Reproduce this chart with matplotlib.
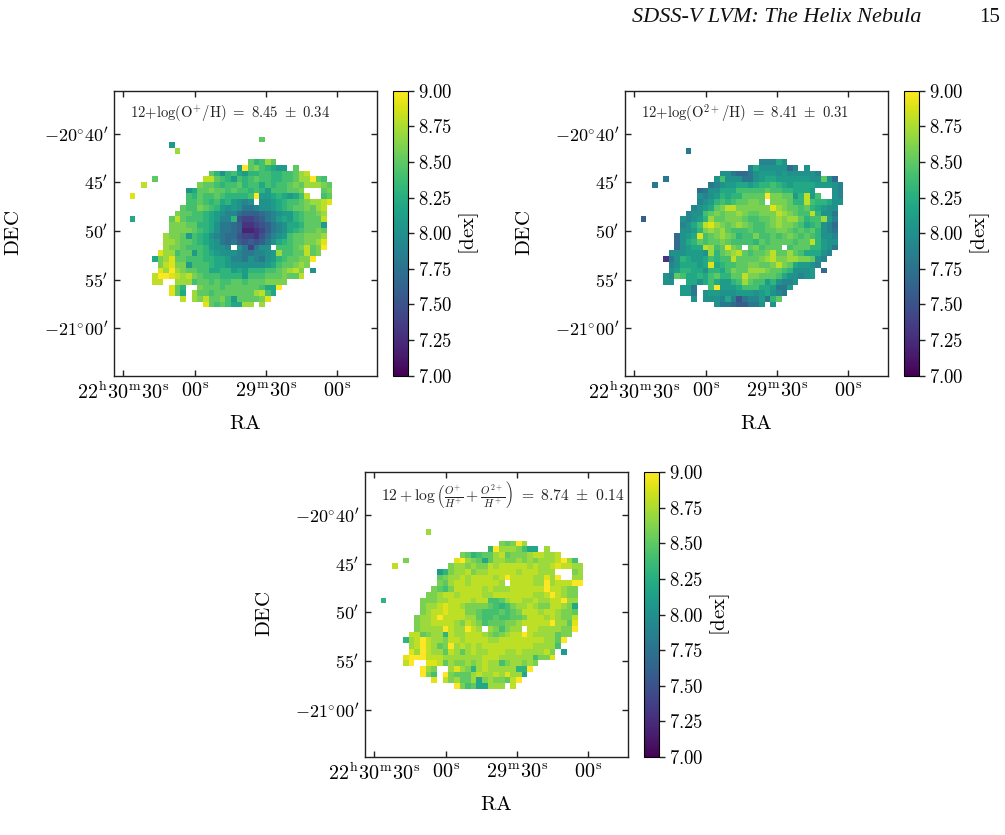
import matplotlib
matplotlib.use('Agg')
import matplotlib.pyplot as plt
import numpy as np

plt.rcParams['mathtext.fontset'] = 'cm'
plt.rcParams['font.family'] = 'serif'
plt.rcParams['font.serif'] = ['Liberation Serif', 'DejaVu Serif']

W, H = 1005, 835
NCOL = 36

# abundance maps, one string per spaxel row, one base-36 digit per spaxel:
# value = 7.0 + 0.1 * digit ('0' = 7.0, 'a' = 8.0, 'k' = 9.0), '.' = no data
OP_ROWS = [
    "."*23 + "f",
    "."*7 + "b",
    "."*8 + "h",
    "",
    "."*21 + "fdehf",
    "."*19 + "bkfgedcbb.f",
    "."*14 + "fdadecbddeeddeefhi",
    "."*4 + "f" + "."*8 + "iifedbedefeeddeefhhkfe",
    "..i" + "."*9 + "gffedeefdeecedeefgfhhhgf",
    "."*10 + "acffg" + "ffefe" + "ededb" + "eeeff" + "g" + "..." + "fg",
    "j" + "."*9 + "edfee" + "feddd" + "dekbb" + "cdcbc" + "ei" + ".." + "ef",
    "."*10 + "eefed" + "ecdba" + "9a" + "." + "aabcd" + "eefghhi" + "j",
    "."*9 + "feegfedbaba889aabcdeffgfhi",
    "."*8 + "gffeedcba997666789abbdeffgh",
    "c" + "."*6 + "fifeeedcb99d5445689bcbdefffi",
    "."*7 + "gggffddca88763345689accdfffb",
    "."*7 + "ggggfedca88762234689acdeffgf",
    "."*6 + "hggfb" + "edca9" + "87754" + "43579" + "abeff" + "gggh",
    "."*6 + "hhgff" + "edcba" + "87865" + "6568a" + "cdeff" + "gghj",
    "."*6 + "hggfeeedba" + "a9.a848aa." + "eeefgifgk",
    "."*5 + "jhheffbedcbaaa98899abheeffifg",
    "."*4 + "cghjffeeeddccb998a98abdeffggk",
    "."*5 + "gijggbeeedccbaaaaaabceffghg",
    "."*5 + "jhkhgffeeccddbcbdddeefghig.a",
    "."*4 + "ikkjihigfeeeddddbeeefffgffi",
    "."*4 + "ii..hhh" + "effefeeffefffgggg",
    "."*7 + "jfd.." + "gfffeffffffecck",
    "."*7 + "jfc." + "hffefffffffhiec",
    "."*9 + "i." + "hgiffgebffffgj",
    "."*13 + "jfefecchh.h",
]

O2P_ROWS = [
    "",
    "",
    "."*8 + "8",
    "",
    "."*21 + "999ca",
    "."*19 + "9caaaaa79.a",
    "."*14 + "aa8778abbbabaaaaa9",
    "."*4 + "8" + "."*8 + "aeaaa88abccbbbbbbaafa7",
    "..8" + "."*9 + "89abbccbcddedcbccccbbba9",
    "."*10 + "78aac" + "cceee" + "eefee" + "ddccc" + "b" + "..." + "a9",
    "."*10 + "a9abd" + "cddff" + "ffkgg" + "ffbdi" + "be" + ".." + "a9",
    "."*10 + "9abde" + "deffg" + "gf.gg" + "gfddi" + "eddca" + "a",
    "."*9 + "9abcfgiiggggggjhgffefdcbaa",
    "."*8 + "9aaefgfgghgffgggihgfeeidaa8",
    "6" + "."*6 + "a9abdhffgggfeeffghghhfdeehb9",
    "."*7 + "9aceijhgfghgfeefghggfecdea97",
    "."*7 + "aabdghghfeeefeeffggfefefda98",
    "."*6 + "7abcjefghgfdeegeefefgfefedaa9",
    "."*6 + "7acdf" + "effgf" + "eeeed" + "fefff" + "feffi" + "dbaa",
    "."*6 + "7abcc" + "ihefj" + "gf.fg" + "efff." + "efffd" + "dba8",
    "."*5 + "aaabbbahdfghifeffgiffhfeccca9",
    "."*4 + "38adcbbcedeeiffffghigghhggfa9",
    "."*5 + "9acccbcjcdeeffggffgigfcbba9",
    "."*5 + "abddccaddcegffhhhgffedaaab.7",
    "."*4 + "a9feccdcefddffiggfffecaa9ab",
    "."*4 + "aa..cca" + "cecbbdehfeebda99a",
    "."*7 + "bb8.." + "ekbbbceeeccb88b",
    "."*7 + "bb8." + "abbaaabbbabca98",
    "."*9 + "a." + "aaa9c95899b8df",
    "."*13 + "a8876688a.a",
]

TOTAL_ROWS = [
    "",
    "",
    "."*8 + "h",
    "",
    "."*21 + "gfgkh",
    "."*19 + "dkhhhgecc.h",
    "."*14 + "gfdeffhifggghiihhi",
    "."*4 + "g" + "."*8 + "jkhgfcfhhgghghghhhikhe",
    "..i" + "."*9 + "ghhghggihiiiiihihhijiihh",
    "."*10 + "bdghh" + "ighhi" + "iiiih" + "iiihh" + "h" + "..." + "gh",
    "."*10 + "fghhi" + "hiiii" + "hikii" + "iihhj" + "hk" + ".." + "hh",
    "."*10 + "gfhii" + "hiiii" + "ih.ii" + "iihhk" + "hiiik" + "k",
    "."*9 + "gfegiiiiihihhhiiiiiikiihgg",
    "."*8 + "gghii" + "hiiii" + "hhiii" + "iiiih" + "hikih" + "gg",
    "d" + "."*6 + "ggghhiiiihiieefhiihhihhiikhh",
    "."*7 + "ghhijiihggggfedeghhihggiihgc",
    "."*7 + "ghiijiiiggfeeefefgiiihiihggf",
    "."*6 + "ghhik" + "iiiih" + "hfeef" + "eeffg" + "iiihi" + "hggi",
    "."*6 + "ghhii" + "iihgi" + "hgeff" + "fgghi" + "iiiik" + "hhfj",
    "."*6 + "ghhhh" + "kihhk" + "ih.hg" + "eghh." + "iihhh" + "hggk",
    "."*5 + "iifghhdihhiiihgfghiikihhhhfgg",
    "."*4 + "dhikihhgiihiiiihhiiiiiiiihhfk",
    "."*5 + "hikihfgkhihihiiiiiiiiihhhhe",
    "."*5 + "jhkihhfihfhihhiiihhihhhhig.b",
    "."*4 + "jkkki" + "iihhh" + "hhhhi" + "iihhh" + "hhheg" + "gj",
    "."*4 + "ik..jji" + "fhgghghihheghhghg",
    "."*7 + "khg.." + "hjhgdhihhhhhddk",
    "."*7 + "kge." + "kgfffhihhihjhhc",
    "."*9 + "j." + "ighffhcghggfik",
    "."*13 + "kgefcchhh.i",
]

OP_LABEL = r'$\mathrm{12{+}log(O^{+}/H)\ =\ 8.45\ \pm\ 0.34}$'
O2P_LABEL = r'$\mathrm{12{+}log(O^{2+}/H)\ =\ 8.41\ \pm\ 0.31}$'
TOTAL_LABEL = (r'$12+\log\left(\frac{O^{+}}{H^{+}}+\frac{O^{2+}}{H^{+}}\right)$'
               r'$\mathrm{\ =\ 8.74\ \pm\ 0.14}$')

RA_TICKS = [90, 60, 30, 0]  # seconds after 22h29m00s
RA_LABELS = [r'$22^{\mathrm{h}}30^{\mathrm{m}}30^{\mathrm{s}}$', r'$00^{\mathrm{s}}$',
             r'$29^{\mathrm{m}}30^{\mathrm{s}}$', r'$00^{\mathrm{s}}$']
DEC_TICKS = [-40, -45, -50, -55, -60]  # arcmin from -20 deg
DEC_LABELS = [r"$-20^{\circ}40'$", r"$45'$", r"$50'$", r"$55'$", r"$-21^{\circ}00'$"]
CB_TICKS = [7.0, 7.25, 7.5, 7.75, 8.0, 8.25, 8.5, 8.75, 9.0]

# spaxel grid in sky coordinates
RA_START, RA_STEP = 87.32, 2.369
DEC_START, DEC_STEP = -40.29, 0.585


def decode(rows):
    grid = np.full((len(rows), NCOL), np.nan)
    for j, row in enumerate(rows):
        for i, ch in enumerate(row):
            if ch != '.':
                grid[j, i] = 7.0 + 0.1 * int(ch, 36)
    return np.ma.masked_invalid(grid)


def px_axes(fig, x0, y0, x1, y1):
    # axes from pixel corners, y counted from the top of the figure
    return fig.add_axes([x0 / W, 1 - y1 / H, (x1 - x0) / W, (y1 - y0) / H])


def draw_map(fig, rows, x0, y0, label, label_size):
    ax = px_axes(fig, x0, y0, x0 + 263.3, y0 + 285)
    grid = decode(rows)
    ra_edges = RA_START - RA_STEP * np.arange(NCOL + 1)
    dec_edges = DEC_START - DEC_STEP * np.arange(len(rows) + 1)
    mesh = ax.pcolormesh(ra_edges, dec_edges, grid, cmap='viridis', vmin=7, vmax=9,
                         antialiased=False, linewidth=0)
    ax.set_xlim(94.04, -16.69)
    ax.set_ylim(-64.86, -35.58)
    ax.set_xticks(RA_TICKS, RA_LABELS)
    ax.set_yticks(DEC_TICKS, DEC_LABELS)
    ax.tick_params(direction='in', top=True, right=True, length=4, width=1, color='#222222')
    ax.tick_params(axis='x', labelsize=14.5, pad=5)
    ax.tick_params(axis='y', labelsize=13, pad=4)
    ax.set_xlabel(r'$\mathrm{RA}$', fontsize=15, labelpad=7.5)
    ax.set_ylabel(r'$\mathrm{DEC}$', fontsize=15, labelpad=14)
    for spine in ax.spines.values():
        spine.set_linewidth(1.0)
        spine.set_color('#222222')
    ax.text(0.063, 0.92, label, transform=ax.transAxes, fontsize=label_size, va='center',
            color='#222222')

    cax = px_axes(fig, x0 + 279.6, y0, x0 + 294.6, y0 + 285)
    cb = fig.colorbar(mesh, cax=cax)
    cb.set_ticks(CB_TICKS, labels=[f'${v:.2f}$' for v in CB_TICKS])
    cb.ax.tick_params(length=4, width=1, labelsize=13.5, pad=3, color='#222222')
    cb.outline.set_linewidth(0.8)
    cb.set_label(r'$\mathrm{[dex]}$', fontsize=15, labelpad=3)
    return ax


fig = plt.figure(figsize=(W / 100, H / 100), dpi=100)

draw_map(fig, OP_ROWS, 113.7, 90.7, OP_LABEL, 10.6)
draw_map(fig, O2P_ROWS, 624.7, 90.7, O2P_LABEL, 10.6)
draw_map(fig, TOTAL_ROWS, 364.7, 472, TOTAL_LABEL, 11.3)

# running head of the page
fig.text(632 / W, 1 - 17 / H, 'SDSS-V LVM: The Helix Nebula', fontsize=16, style='italic',
         va='center', ha='left', color='#111111')
fig.text(1000 / W, 1 - 17 / H, '15', fontsize=15, va='center', ha='right', color='#111111')

fig.savefig('out.png', dpi=100)
